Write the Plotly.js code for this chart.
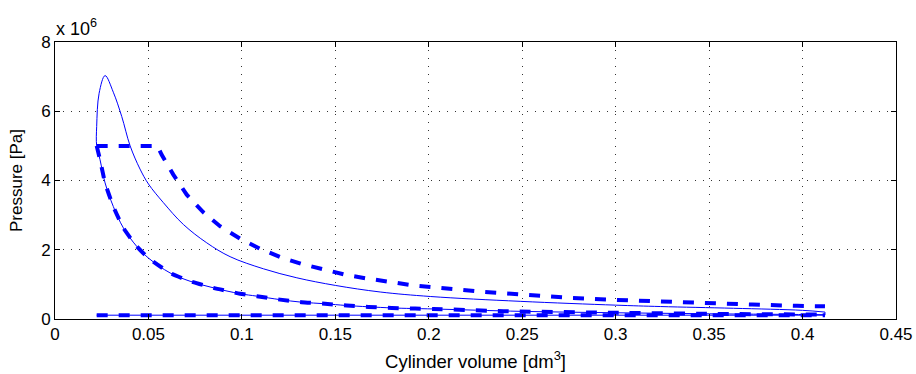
<!DOCTYPE html>
<html>
<head>
<meta charset="utf-8">
<script src="https://cdn.plot.ly/plotly-3.0.1.min.js"></script>
<style>
html,body{margin:0;padding:0;background:#fff;}
#chart{width:916px;height:374px;}
</style>
</head>
<body>
<div id="chart"></div>
<script>
// Volumes in dm^3, pressures in MPa (multiplied to Pa for plotting)

// Real cycle (thin solid): compression from BDC, combustion loop, expansion
var cycleV = [0.412,0.40,0.35,0.30,0.25,0.2024,0.1802,0.1561,0.1445,0.132,0.1204,0.108,0.099,0.0848,0.0723,0.0616,0.05,0.0437,0.0366,0.0312,0.0268,0.0241,0.0223,
              0.0223,0.0236,0.0268,0.0312,0.0357,0.0402,0.0455,0.05,0.058,0.0687,0.0812,0.0937,0.1115,0.1294,0.15,0.174,0.2008,0.2489,0.30,0.3239,0.363,0.40,0.412];
var cycleP = [0.125,0.13,0.15,0.18,0.22,0.29,0.32,0.39,0.44,0.485,0.56,0.66,0.73,0.90,1.09,1.33,1.76,2.10,2.63,3.25,3.93,4.60,5.00,
              5.56,6.52,7.03,6.55,5.85,5.00,4.33,3.90,3.36,2.73,2.20,1.80,1.45,1.19,0.97,0.78,0.65,0.51,0.40,0.36,0.31,0.25,0.20];
// Real cycle gas exchange (thin solid)
var exchV = [0.412,0.412,0.0223];
var exchP = [0.20,0.11,0.11];

// Ideal cycle (thick dashed): constant-pressure heat addition + expansion
var idealUpV = [0.0223,0.0548,0.0571,0.0633,0.0705,0.0794,0.0883,0.099,0.1097,0.1204,0.132,0.1436,0.1552,0.1669,0.1793,0.1918,0.2275,0.2516,0.2757,0.2998,0.3239,0.3489,0.373,0.397,0.412];
var idealUpP = [5.00,5.00,4.74,4.17,3.59,3.08,2.68,2.32,2.03,1.79,1.59,1.43,1.28,1.17,1.07,0.97,0.79,0.70,0.61,0.553,0.50,0.455,0.418,0.38,0.365];
// Ideal cycle compression
var idealLowV = [0.0223,0.0241,0.0268,0.0312,0.0366,0.0437,0.05,0.0616,0.0723,0.0848,0.099,0.108,0.1204,0.132,0.1445,0.1561,0.1676,0.1802,0.1927,0.2024,0.24,0.30,0.35,0.40,0.412];
var idealLowP = [5.00,4.60,3.93,3.25,2.63,2.10,1.76,1.33,1.09,0.90,0.73,0.66,0.56,0.485,0.44,0.39,0.35,0.32,0.30,0.29,0.225,0.18,0.15,0.13,0.125];
// Ideal cycle gas exchange line
var idealExV = [0.0223,0.412];
var idealExP = [0.11,0.11];

var xTicks = [0,0.05,0.1,0.15,0.2,0.25,0.3,0.35,0.4,0.45];
var xTickText = ['0','0.05','0.1','0.15','0.2','0.25','0.3','0.35','0.4','0.45'];
var yTicks = [0,2,4,6,8];
var yTickText = ['0','2','4','6','8'];

function pa(arr){ return arr.map(function(v){ return v*1e6; }); }

var blue = '#0000ff';
var thin = {color: blue, width: 1};
var thick = {color: blue, width: 4, dash: '11px,11px'};

var traces = [
  {x: idealExV, y: pa(idealExP), mode: 'lines', line: thick, hoverinfo: 'skip'},
  {x: idealLowV, y: pa(idealLowP), mode: 'lines', line: Object.assign({shape:'spline', smoothing:0.5}, thick), hoverinfo: 'skip'},
  {x: idealUpV, y: pa(idealUpP), mode: 'lines', line: Object.assign({shape:'linear'}, thick), hoverinfo: 'skip'},
  {x: cycleV, y: pa(cycleP), mode: 'lines', line: Object.assign({shape:'spline', smoothing:1}, thin), hoverinfo: 'skip'},
  {x: exchV, y: pa(exchP), mode: 'lines', line: thin, hoverinfo: 'skip'}
];

var fam = 'Liberation Sans, Arial, Helvetica, sans-serif';
var font = {family: fam, size: 17, color: '#000'};
var xTitleFont = {family: fam, size: 18.5, color: '#000'};

var layout = {
  width: 916, height: 374,
  margin: {l: 55, r: 20, t: 42, b: 54.5, pad: 0},
  paper_bgcolor: '#fff', plot_bgcolor: '#fff',
  showlegend: false,
  font: font,
  xaxis: {
    range: [0, 0.45], tickvals: xTicks, ticktext: xTickText,
    ticks: 'inside', ticklen: 5, tickcolor: '#000', tickwidth: 1,
    showline: true, linecolor: '#000', linewidth: 1, mirror: 'ticks',
    showgrid: true, gridcolor: '#333', gridwidth: 1, griddash: '1px,7px',
    zeroline: false, tickfont: font,
    title: {text: 'Cylinder volume [dm<sup>3</sup>]', font: xTitleFont, standoff: 11}
  },
  yaxis: {
    range: [0, 8e6], tickvals: pa(yTicks), ticktext: yTickText,
    ticks: 'inside', ticklen: 5, tickcolor: '#000', tickwidth: 1,
    showline: true, linecolor: '#000', linewidth: 1, mirror: 'ticks',
    showgrid: true, gridcolor: '#333', gridwidth: 1, griddash: '1px,7px',
    zeroline: false, tickfont: font,
    title: {text: 'Pressure [Pa]', font: font, standoff: 14}
  },
  annotations: [{
    xref: 'paper', yref: 'paper', x: 0, y: 1, xanchor: 'left', yanchor: 'bottom',
    xshift: -1, yshift: 1, text: 'x 10<sup>6</sup>', showarrow: false,
    font: {family: fam, size: 18, color: '#000'}
  }]
};

Plotly.newPlot('chart', traces, layout, {displayModeBar: false, staticPlot: true});
</script>
</body>
</html>
